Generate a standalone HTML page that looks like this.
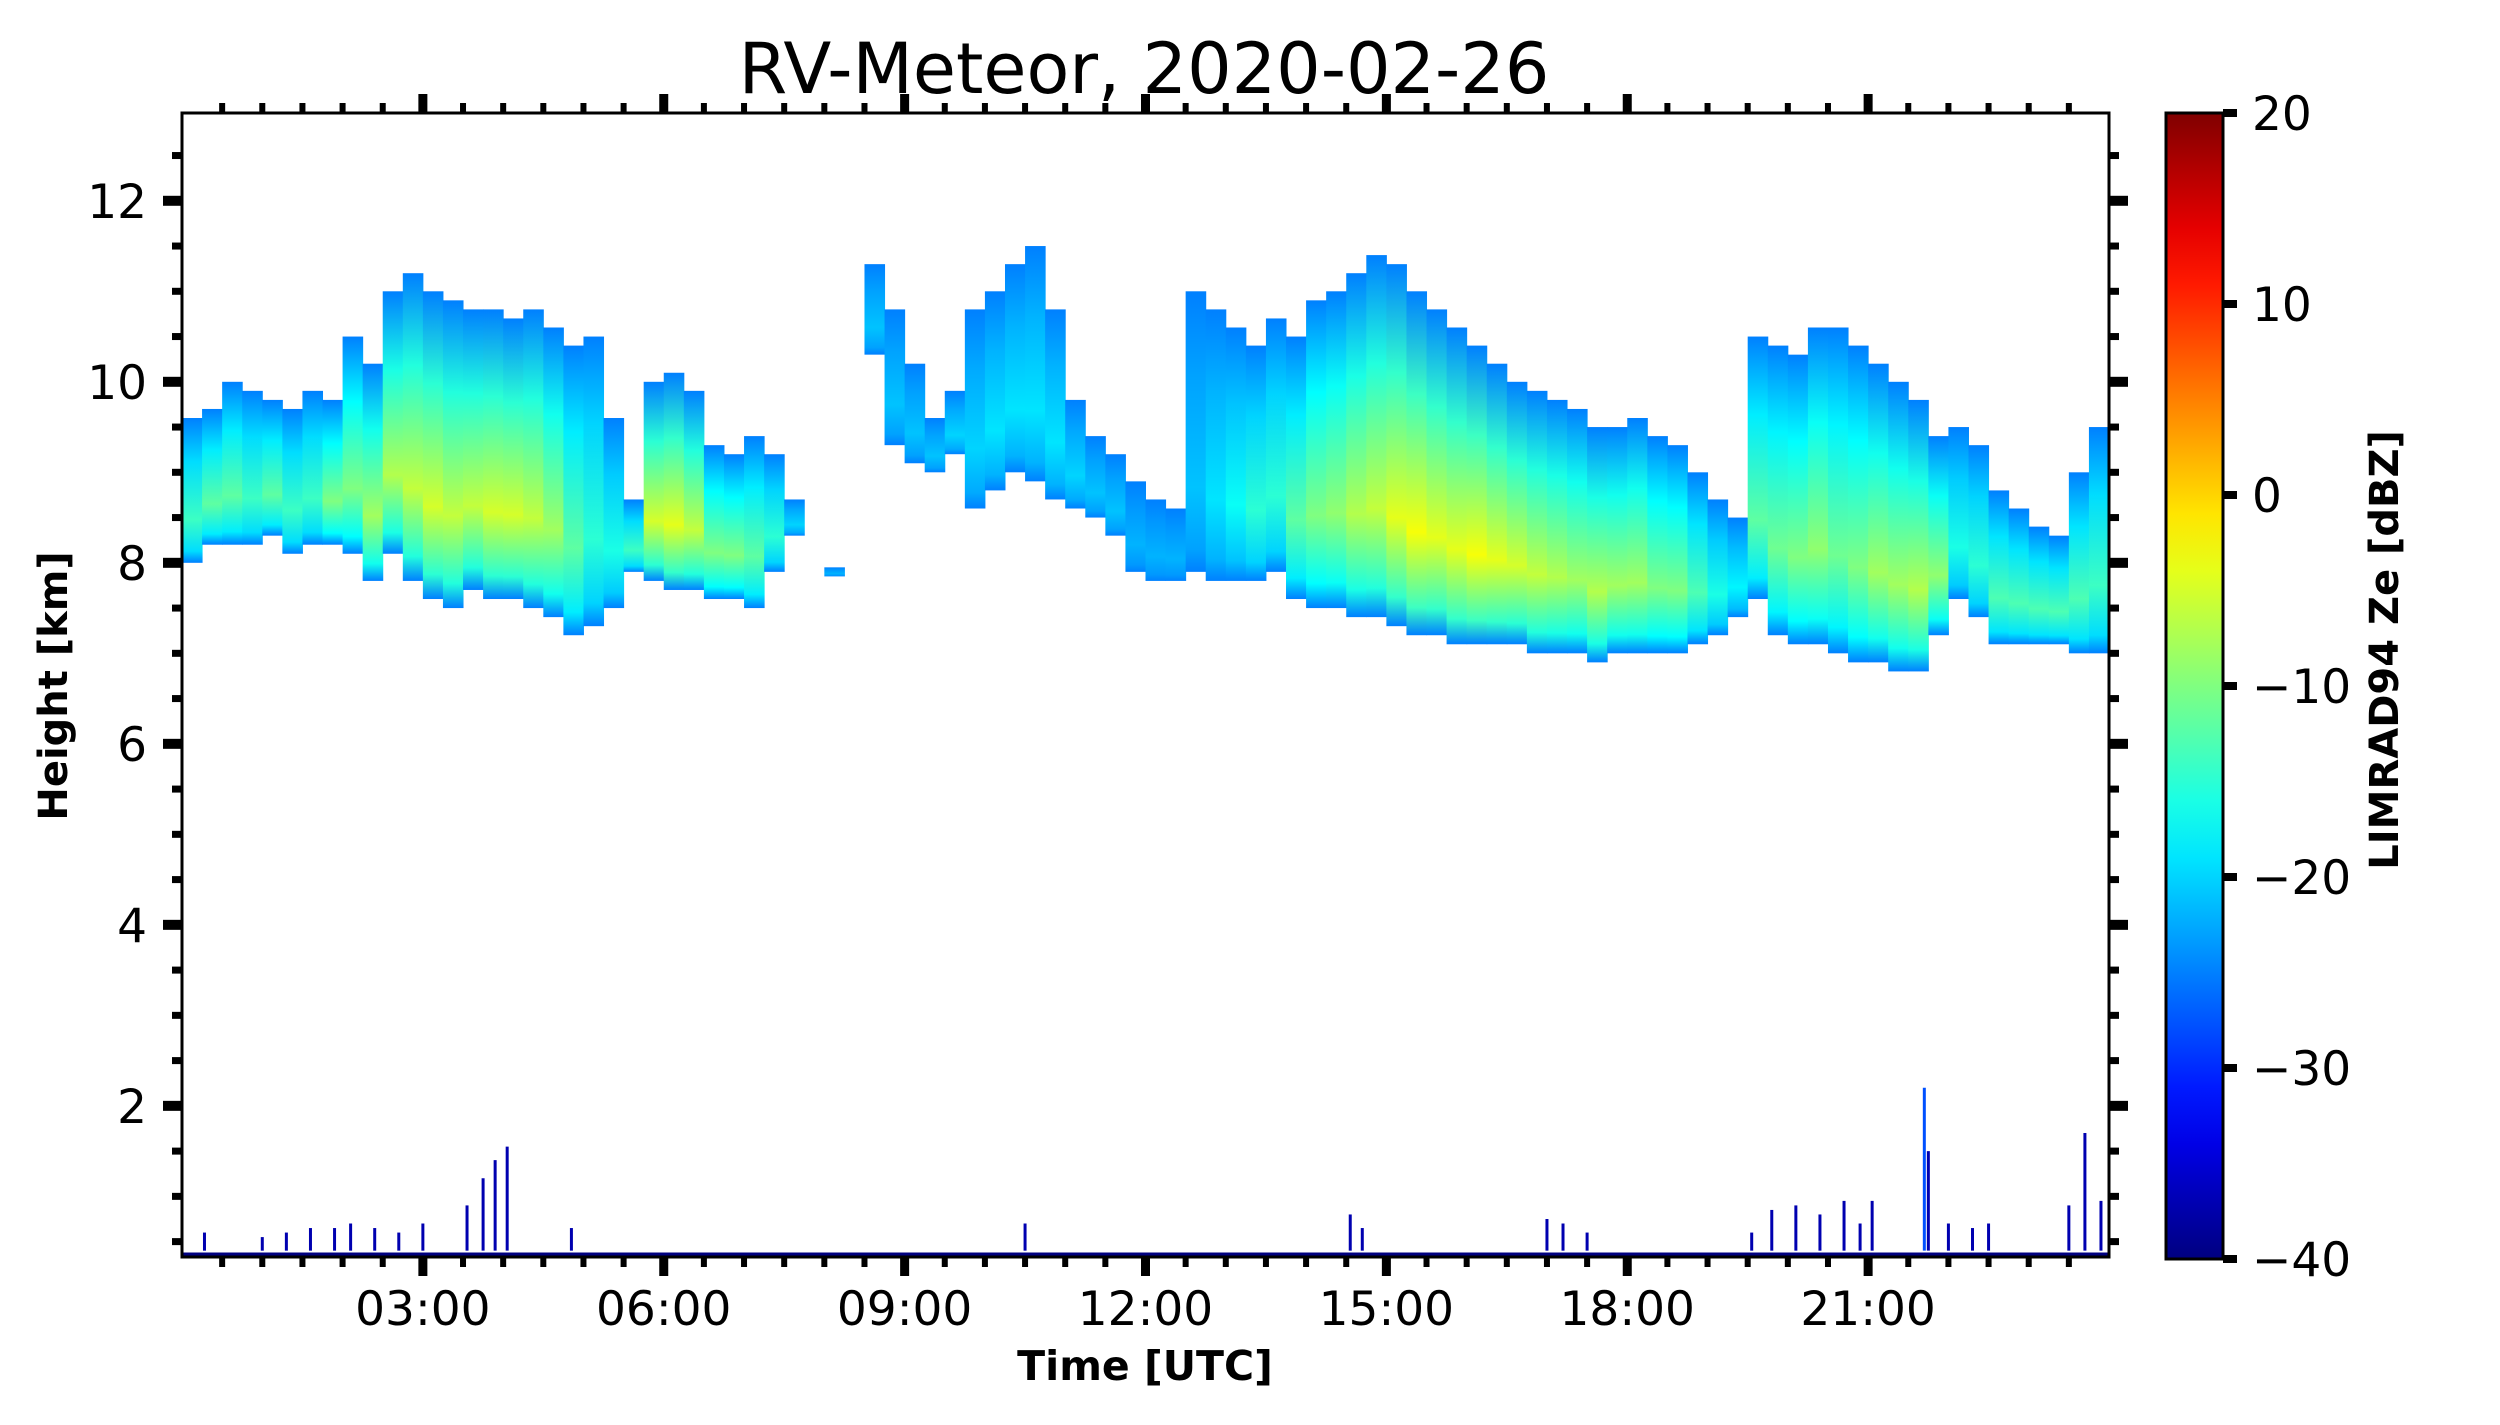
<!DOCTYPE html>
<html><head><meta charset="utf-8"><style>
html,body{margin:0;padding:0;background:#fff;}
svg{display:block;}
text{font-family:"DejaVu Sans","Liberation Sans",sans-serif;fill:#000;}
</style></head><body>
<svg id="chart" xmlns="http://www.w3.org/2000/svg" width="2500" height="1425" viewBox="0 0 2500 1425">
<defs id="defs"></defs>
<text x="1144" y="93" font-size="70" text-anchor="middle">RV-Meteor, 2020-02-26</text>
<g id="plot"></g>
<g id="axes"></g>
<text x="1145" y="1380" font-size="41" font-weight="bold" text-anchor="middle">Time [UTC]</text>
<text transform="translate(67,686) rotate(-90)" font-size="40" font-weight="bold" text-anchor="middle">Height [km]</text>
<g id="cbar"></g>
<text transform="translate(2398,650) rotate(-90)" font-size="40" font-weight="bold" text-anchor="middle">LIMRAD94 Ze [dBZ]</text>
</svg>
<script>
// 15-minute columns, 00:00 to 24:00
const timeStepHours = 0.25;
const cloudTops = [9.6,9.7,10.0,9.9,9.8,9.7,9.9,9.8,
 10.5,10.2,11.0,11.2,11.0,10.9,10.8,10.8,
 10.7,10.8,10.6,10.4,10.5,9.6,8.7,10.0,
 10.1,9.9,9.3,9.2,9.4,9.2,8.7,null,
 7.95,null,11.3,10.8,10.2,9.6,9.9,10.8,
 11.0,11.3,11.5,10.8,9.8,9.4,9.2,8.9,
 8.7,8.6,11.0,10.8,10.6,10.4,10.7,10.5,
 10.9,11.0,11.2,11.4,11.3,11.0,10.8,10.6,
 10.4,10.2,10.0,9.9,9.8,9.7,9.5,9.5,
 9.6,9.4,9.3,9.0,8.7,8.5,10.5,10.4,
 10.3,10.6,10.6,10.4,10.2,10.0,9.8,9.4,
 9.5,9.3,8.8,8.6,8.4,8.3,9.0,9.5];
const cloudBases = [8.0,8.2,8.2,8.2,8.3,8.1,8.2,8.2,
 8.1,7.8,8.1,7.8,7.6,7.5,7.7,7.6,
 7.6,7.5,7.4,7.2,7.3,7.5,7.9,7.8,
 7.7,7.7,7.6,7.6,7.5,7.9,8.3,null,
 7.85,null,10.3,9.3,9.1,9.0,9.2,8.6,
 8.8,9.0,8.9,8.7,8.6,8.5,8.3,7.9,
 7.8,7.8,7.9,7.8,7.8,7.8,7.9,7.6,
 7.5,7.5,7.4,7.4,7.3,7.2,7.2,7.1,
 7.1,7.1,7.1,7.0,7.0,7.0,6.9,7.0,
 7.0,7.0,7.0,7.1,7.2,7.4,7.6,7.2,
 7.1,7.1,7.0,6.9,6.9,6.8,6.8,7.2,
 7.6,7.4,7.1,7.1,7.1,7.1,7.0,7.0];
const maxDbz = [-14,-12,-12,-14,-12,-14,-14,-10,
 -10,-8,-7,-6,-5,-6,-6,-5,
 -5,-6,-8,-12,-15,-16,-14,-5,
 -4,-6,-10,-10,-12,-15,-20,null,
 -22,null,-21,-21,-21,-21,-20,-20,
 -19,-19,-19,-19,-20,-21,-21,-22,
 -22,-22,-21,-19,-17,-15,-15,-12,
 -10,-9,-7,-6,-4,-3,-4,-4,
 -3,-4,-5,-6,-7,-8,-7,-8,
 -8,-10,-10,-13,-16,-18,-12,-11,
 -10,-9,-11,-10,-8,-8,-7,-9,
 -16,-15,-13,-13,-13,-13,-13,-14];
// low-level echoes: time (h) and top height (km)
const lowEchoTimes = [0.28,1.0,1.3,1.6,1.9,2.1,2.4,2.7,3.0,3.55,3.75,3.9,4.05,4.85,10.5,14.55,14.7,17.0,17.2,17.5,19.55,19.8,20.1,20.4,20.7,20.9,21.05,21.7,21.75,22.0,22.3,22.5,23.5,23.7,23.9];
const lowEchoTops = [0.6,0.55,0.6,0.65,0.65,0.7,0.65,0.6,0.7,0.9,1.2,1.4,1.55,0.65,0.7,0.8,0.65,0.75,0.7,0.6,0.6,0.85,0.9,0.8,0.95,0.7,0.95,2.2,1.5,0.7,0.65,0.7,0.9,1.7,0.95];
const xTickHours = [3,6,9,12,15,18,21];
const xTickLabels = ["03:00","06:00","09:00","12:00","15:00","18:00","21:00"];
const yTickKm = [2,4,6,8,10,12];
const cbarTicks = [20,10,0,-10,-20,-30,-40];

const X0=182, X1=2109, Y0=113, Y1=1257;
const xMin=0,xMax=24,yMin=0.33,yMax=12.97;
const xs = h => X0 + (h-xMin)/(xMax-xMin)*(X1-X0);
const ys = k => Y1 - (k-yMin)/(yMax-yMin)*(Y1-Y0);
const vMin=-40,vMax=20;
function jet(v){
  let t=Math.max(0,Math.min(1,(v-vMin)/(vMax-vMin)));
  const c=x=>Math.round(255*Math.max(0,Math.min(1,1.5-Math.abs(4*t-x))));
  return `rgb(${c(3)},${c(2)},${c(1)})`;
}
const NS="http://www.w3.org/2000/svg";
function mk(tag,attrs,parent){const e=document.createElementNS(NS,tag);for(const k in attrs)e.setAttribute(k,attrs[k]);parent.appendChild(e);return e;}
const defs=document.getElementById('defs'), plot=document.getElementById('plot'), axes=document.getElementById('axes'), cbar=document.getElementById('cbar');

// cloud columns
cloudTops.forEach((top,i)=>{
  const base=cloudBases[i], mx=maxDbz[i];
  if(top==null||base==null||mx==null) return;
  const g=mk('linearGradient',{id:'cg'+i,x1:0,y1:0,x2:0,y2:1},defs);
  const edge=-25;
  [[0,edge],[0.3,(mx+edge)/2],[0.7,mx],[0.92,(mx+edge)/2],[1,edge]].forEach(([o,v])=>mk('stop',{offset:o,'stop-color':jet(v)},g));
  const h=i*timeStepHours;
  const r=mk('rect',{x:xs(h),y:ys(top),width:xs(h+timeStepHours)-xs(h)+0.5,height:ys(base)-ys(top),fill:`url(#cg${i})`},plot);
  
  
});
// low echoes
lowEchoTimes.forEach((h,i)=>{
  const l=mk('line',{x1:xs(h),x2:xs(h),y1:ys(0.4),y2:ys(lowEchoTops[i]),stroke:i==27?'#0050ff':'#0000b0','stroke-width':3},plot);
  
  
});
const gl=mk('line',{x1:X0,x2:X1,y1:Y1-3,y2:Y1-3,stroke:'#00007f','stroke-width':3},plot);



// frame
const fr=mk('rect',{x:X0,y:Y0,width:X1-X0,height:Y1-Y0,fill:'none',stroke:'#000','stroke-width':3},axes);


// x ticks (bottom & top)
for(let h=0.5;h<24;h+=0.5){
  const major=Math.abs(h%3)<1e-6, x=xs(h), L=major?19:10, W=major?9:6;
  mk('rect',{x:x-W/2,y:Y1,width:W,height:L,fill:'#000'},axes);
  mk('rect',{x:x-W/2,y:Y0-L,width:W,height:L,fill:'#000'},axes);
}
xTickHours.forEach((h,i)=>{
  const t=mk('text',{x:xs(h),y:1325,'font-size':47,'text-anchor':'middle'},axes);
  t.textContent=xTickLabels[i];
  
  
});
// y ticks (left & right)
for(let k=0.5;k<13;k+=0.5){
  const major=Math.abs(k%2)<1e-6, y=ys(k), L=major?19:10, W=major?10:7;
  mk('rect',{x:X0-L,y:y-W/2,width:L,height:W,fill:'#000'},axes);
  mk('rect',{x:X1,y:y-W/2,width:L,height:W,fill:'#000'},axes);
}
yTickKm.forEach(k=>{
  const t=mk('text',{x:147,y:ys(k)+17,'font-size':47,'text-anchor':'end'},axes);
  t.textContent=String(k);
  
  
});
// colorbar
const CX0=2166,CX1=2223,CY0=113,CY1=1259;
const cg=mk('linearGradient',{id:'cbg',x1:0,y1:1,x2:0,y2:0},defs);
for(let s=0;s<=20;s++){mk('stop',{offset:s/20,'stop-color':jet(vMin+(vMax-vMin)*s/20)},cg);}
const cr=mk('rect',{x:CX0,y:CY0,width:CX1-CX0,height:CY1-CY0,fill:'url(#cbg)',stroke:'#000','stroke-width':3},cbar);


const cy=v=>CY1-(v-vMin)/(vMax-vMin)*(CY1-CY0);
cbarTicks.forEach(v=>{
  mk('rect',{x:CX1,y:cy(v)-4,width:14,height:8,fill:'#000'},cbar);
  const t=mk('text',{x:2252,y:cy(v)+17,'font-size':47},cbar);
  t.textContent=(v<0?'\u2212':'')+Math.abs(v);
  
  
});
</script>
</body></html>
